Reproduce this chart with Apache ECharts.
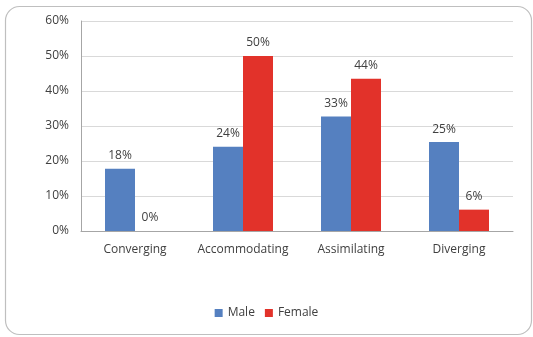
<!DOCTYPE html>
<html><head><meta charset="utf-8">
<script src="https://cdn.jsdelivr.net/npm/echarts@6/dist/echarts.min.js"></script>
<style>html,body{margin:0;padding:0;background:#fff}#c{width:533px;height:337px}</style>
</head><body><div id="c"></div>
<script>
const categories = ['Converging', 'Accommodating', 'Assimilating', 'Diverging'];
const maleValues = [17.8, 24.1, 32.7, 25.4];
const femaleValues = [0, 50, 43.5, 6.1];
const yTicks = [0, 10, 20, 30, 40, 50, 60];

const font = 'Open Sans';
const fs = 12;
const chart = echarts.init(document.getElementById('c'), null, {renderer: 'canvas'});
const lbl = {show: true, position: 'top', distance: 7, color: '#404040', fontSize: fs, fontFamily: font,
  formatter: p => Math.round(p.value) + '%'};
chart.setOption({
  animation: false,
  graphic: [{type: 'rect', left: 3, top: 4, shape: {width: 526, height: 328, r: 14},
    style: {fill: 'none', stroke: '#bfbfbf', lineWidth: 1.2}, z: -1}],
  grid: {left: 81, right: 20, top: 21, bottom: 106},
  legend: {bottom: 13, left: 'center', itemWidth: 8, itemHeight: 8, itemGap: 10,
    icon: 'rect', textStyle: {color: '#404040', fontSize: fs, fontFamily: font},
    data: ['Male', 'Female']},
  xAxis: {type: 'category', data: categories,
    axisLine: {lineStyle: {color: '#a6a6a6'}}, axisTick: {show: false},
    axisLabel: {color: '#404040', fontSize: fs, fontFamily: font, margin: 13, interval: 0}},
  yAxis: {type: 'value', min: yTicks[0], max: yTicks[yTicks.length - 1], interval: 10,
    axisLine: {show: true, lineStyle: {color: '#a6a6a6'}}, axisTick: {show: false},
    splitLine: {lineStyle: {color: '#d9d9d9'}},
    axisLabel: {color: '#404040', fontSize: fs, fontFamily: font, margin: 12, formatter: v => v + '%'}},
  series: [
    {name: 'Male', type: 'bar', data: maleValues, barWidth: 30, barGap: '0%',
      itemStyle: {color: '#5580c0'}, label: lbl},
    {name: 'Female', type: 'bar', data: femaleValues, barWidth: 30, barGap: '0%',
      itemStyle: {color: '#e2322a'}, label: lbl}
  ]
});
</script></body></html>
